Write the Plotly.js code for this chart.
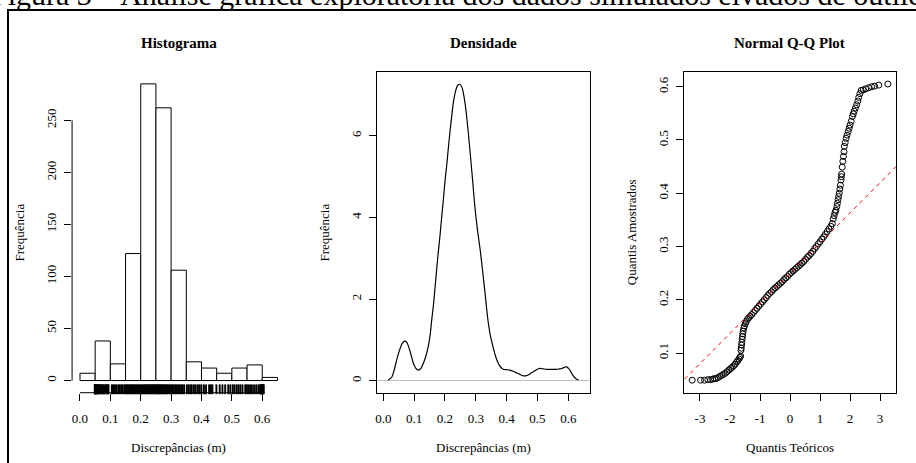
<!DOCTYPE html>
<html>
<head>
<meta charset="utf-8">
<script src="https://cdn.plot.ly/plotly-3.0.1.min.js"></script>
<style>
html,body{margin:0;padding:0;background:#fff;}
#grafico{width:916px;height:463px;}
</style>
</head>
<body>
<div id="grafico"></div>
<script>
// ---------- dados ----------
const limitesClasses = [0.00,0.05,0.10,0.15,0.20,0.25,0.30,0.35,0.40,0.45,0.50,0.55,0.60,0.65];
const frequencias    = [7,38,16,122,285,262,106,18,12,7,12,15,3];

const densidadeX = [0.016,0.027,0.035,0.043,0.054,0.062,0.070,0.076,0.081,0.089,0.097,0.105,0.114,0.122,0.130,0.138,0.146,0.152,0.157,0.163,0.168,0.173,0.178,0.184,0.189,0.195,0.200,0.206,0.211,0.216,0.222,0.227,0.233,0.238,0.243,0.247,0.252,0.257,0.262,0.266,0.270,0.276,0.283,0.290,0.297,0.305,0.314,0.322,0.330,0.335,0.340,0.348,0.357,0.365,0.373,0.381,0.389,0.400,0.411,0.422,0.433,0.444,0.454,0.462,0.470,0.478,0.487,0.497,0.508,0.519,0.530,0.546,0.562,0.571,0.579,0.587,0.595,0.601,0.606,0.612,0.618,0.625,0.633];
const densidadeY = [0.02,0.08,0.25,0.50,0.78,0.92,0.97,0.94,0.86,0.66,0.44,0.31,0.26,0.30,0.43,0.60,0.85,1.12,1.49,1.88,2.30,2.72,3.12,3.56,3.98,4.45,4.88,5.30,5.70,6.08,6.48,6.80,7.05,7.19,7.25,7.26,7.23,7.14,6.95,6.75,6.50,6.05,5.48,4.88,4.26,3.72,3.22,2.70,2.15,1.78,1.45,1.08,0.80,0.58,0.43,0.33,0.28,0.27,0.26,0.23,0.19,0.15,0.12,0.12,0.14,0.18,0.22,0.27,0.30,0.29,0.28,0.28,0.28,0.29,0.30,0.33,0.34,0.30,0.25,0.17,0.10,0.05,0.02];

const quantisTeoricos = [-3.26,-2.98,-2.85,-2.74,-2.65,-2.58,-2.52,-2.46,-2.40,-2.34,-2.28,-2.22,-2.16,-2.10,-2.04,-1.98,-1.93,-1.88,-1.83,-1.78,-1.74,-1.70,-1.67,-1.645,-1.635,-1.625,-1.615,-1.605,-1.595,-1.585,-1.575,-1.56,-1.54,-1.52,-1.49,-1.46,-1.42,-1.38,-1.33,-1.28,
 -1.22,-1.16,-1.10,-1.04,-0.98,-0.92,-0.86,-0.80,-0.74,-0.68,-0.62,-0.56,-0.50,-0.44,-0.38,-0.32,-0.26,-0.20,-0.14,-0.08,-0.02,0.04,0.10,0.16,0.22,0.28,0.34,0.40,0.46,0.52,0.58,0.64,0.70,0.76,0.82,0.88,0.94,1.00,1.06,1.12,1.18,1.24,1.30,1.36,
 1.41,1.44,1.47,1.50,1.53,1.56,1.58,1.60,1.62,1.64,1.66,1.68,1.70,1.71,1.72,1.74,1.76,1.78,1.80,1.81,1.84,1.87,1.90,1.94,1.97,2.00,2.04,2.08,2.11,2.14,2.18,2.22,2.26,2.29,2.33,2.37,2.44,2.52,2.62,2.72,2.82,2.96,3.26];
const quantisAmostrados = [0.049,0.049,0.049,0.050,0.050,0.051,0.052,0.052,0.054,0.056,0.058,0.060,0.062,0.065,0.068,0.071,0.073,0.076,0.079,0.083,0.086,0.089,0.092,0.094,0.105,0.109,0.115,0.120,0.126,0.131,0.136,0.141,0.147,0.151,0.155,0.159,0.163,0.166,0.169,0.172,
 0.176,0.180,0.184,0.188,0.192,0.196,0.200,0.204,0.208,0.212,0.215,0.219,0.222,0.225,0.228,0.231,0.234,0.238,0.241,0.244,0.248,0.251,0.254,0.257,0.260,0.263,0.266,0.269,0.272,0.276,0.280,0.283,0.287,0.291,0.296,0.300,0.305,0.309,0.314,0.318,0.323,0.328,0.333,0.338,
 0.343,0.352,0.358,0.364,0.368,0.375,0.381,0.388,0.394,0.400,0.408,0.415,0.425,0.431,0.436,0.449,0.460,0.469,0.478,0.488,0.495,0.503,0.509,0.516,0.522,0.528,0.535,0.544,0.549,0.554,0.560,0.566,0.573,0.580,0.587,0.593,0.594,0.596,0.598,0.600,0.601,0.603,0.605];

const linhaQQx = [-3.7, 3.7];
const linhaQQy = [0.0406, 0.4594];

const ticksHistX = [0,0.1,0.2,0.3,0.4,0.5,0.6];
const ticksHistY = [0,50,100,150,200,250];
const ticksDensY = [0,2,4,6];
const ticksQQx   = [-3,-2,-1,0,1,2,3];
const rotulosQQx = ['-3','-2','-1','0','1','2','3'];
const ticksQQy   = [0.1,0.2,0.3,0.4,0.5,0.6];

const tituloHist = 'Histograma';
const tituloDens = 'Densidade';
const tituloQQ   = 'Normal Q-Q Plot';
const rotuloX12  = 'Discrepâncias (m)';
const rotuloY12  = 'Frequência';
const rotuloXQQ  = 'Quantis Teóricos';
const rotuloYQQ  = 'Quantis Amostrados';
const legenda    = 'Figura 3 – Análise gráfica exploratória dos dados simulados eivados de outliers';

// ---------- traços ----------
const centros = frequencias.map((_, i) => (limitesClasses[i] + limitesClasses[i+1]) / 2);
const larguras = frequencias.map((_, i) => limitesClasses[i+1] - limitesClasses[i]);

const fonte = '"Liberation Serif", "Times New Roman", Times, serif';

const traces = [
  {type:'bar', x:centros, y:frequencias, width:larguras, xaxis:'x', yaxis:'y',
   marker:{color:'#ffffff', line:{color:'#000', width:1}}, hoverinfo:'skip'},
  {type:'scatter', mode:'markers', x:quantisAmostrados, y:quantisAmostrados.map(() => -8.4),
   xaxis:'x', yaxis:'y', cliponaxis:false,
   marker:{symbol:'line-ns', size:7, line:{color:'#000', width:1.9}}, hoverinfo:'skip'},
  {type:'scatter', mode:'lines', x:densidadeX, y:densidadeY, xaxis:'x2', yaxis:'y2',
   line:{color:'#000', width:1.2, shape:'spline', smoothing:0.6}, hoverinfo:'skip'},
  {type:'scatter', mode:'markers', x:quantisTeoricos, y:quantisAmostrados, xaxis:'x3', yaxis:'y3',
   marker:{symbol:'circle-open', size:6, color:'#000', line:{color:'#000', width:1}}, hoverinfo:'skip'},
  {type:'scatter', mode:'lines', x:linhaQQx, y:linhaQQy, xaxis:'x3', yaxis:'y3',
   line:{color:'#ff0000', width:1, dash:'4px,4px'}, hoverinfo:'skip'}
];

const base = {
  showgrid:false, zeroline:false, ticks:'outside', ticklen:7, tickwidth:1, tickcolor:'#000',
  tickfont:{family:fonte, size:13, color:'#000'}, fixedrange:true, automargin:false
};
const yDom = [0.1518, 0.8438];

const layout = {
  width:916, height:463,
  margin:{l:0, r:0, t:0, b:0},
  paper_bgcolor:'#ffffff', plot_bgcolor:'rgba(0,0,0,0)',
  showlegend:false, bargap:0,
  xaxis:  Object.assign({}, base, {domain:[0.0787,0.3115], range:[-0.026,0.676], tickvals:ticksHistX, tickformat:'.1f', showline:false, anchor:'y', ticklabelstandoff:7}),
  yaxis:  Object.assign({}, base, {domain:yDom, range:[-11.7,296.1], tickvals:ticksHistY, tickangle:-90, showline:false, anchor:'x', ticklabelstandoff:3}),
  xaxis2: Object.assign({}, base, {domain:[0.4119,0.6441], range:[-0.0195,0.6705], tickvals:ticksHistX, tickformat:'.1f', showline:true, mirror:true, linecolor:'#000', linewidth:1, anchor:'y2', ticklabelstandoff:7}),
  yaxis2: Object.assign({}, base, {domain:yDom, range:[-0.294,7.553], tickvals:ticksDensY, tickangle:-90, showline:true, mirror:true, linecolor:'#000', linewidth:1, zeroline:true, zerolinecolor:'#bebebe', zerolinewidth:1.5, anchor:'x2', ticklabelstandoff:3}),
  xaxis3: Object.assign({}, base, {domain:[0.7464,0.9782], range:[-3.543,3.533], tickvals:ticksQQx, ticktext:rotulosQQx, showline:true, mirror:true, linecolor:'#000', linewidth:1, anchor:'y3', ticklabelstandoff:7}),
  yaxis3: Object.assign({}, base, {domain:yDom, range:[0.0255,0.627], tickvals:ticksQQy, tickformat:'.1f', tickangle:-90, showline:true, mirror:true, linecolor:'#000', linewidth:1, anchor:'x3', ticklabelstandoff:3}),
  shapes:[
    // eixos do histograma no estilo R (linha apenas entre o primeiro e o último tick)
    {type:'line', xref:'x', yref:'y domain', x0:ticksHistX[0], x1:ticksHistX[ticksHistX.length-1], y0:0, y1:0, line:{color:'#000', width:1}},
    {type:'line', xref:'x domain', yref:'y', x0:0, x1:0, y0:ticksHistY[0], y1:ticksHistY[ticksHistY.length-1], line:{color:'#000', width:1}},
    // moldura da figura
    {type:'path', xref:'paper', yref:'paper', path:'M 0.00873,-0.1 L 0.00873,0.9784 L 1.1,0.9784', line:{color:'#000', width:2}}
  ],
  annotations:[
    {text:legenda, xref:'paper', yref:'paper', x:-0.012, y:1.012, xanchor:'left', yanchor:'middle', showarrow:false, font:{family:fonte, size:30, color:'#000'}},
    {text:'<b>'+tituloHist+'</b>', xref:'x domain', yref:'paper', x:0.5, y:1-43.3/463, xanchor:'center', yanchor:'middle', showarrow:false, font:{family:fonte, size:15, color:'#000'}},
    {text:'<b>'+tituloDens+'</b>', xref:'x2 domain', yref:'paper', x:0.5, y:1-43.3/463, xanchor:'center', yanchor:'middle', showarrow:false, font:{family:fonte, size:15, color:'#000'}},
    {text:'<b>'+tituloQQ+'</b>', xref:'x3 domain', yref:'paper', x:0.5, y:1-43.3/463, xanchor:'center', yanchor:'middle', showarrow:false, font:{family:fonte, size:15, color:'#000'}},
    {text:rotuloX12, xref:'x domain', yref:'paper', x:0.5, y:1-447/463, xanchor:'center', yanchor:'middle', showarrow:false, font:{family:fonte, size:13, color:'#000'}},
    {text:rotuloX12, xref:'x2 domain', yref:'paper', x:0.5, y:1-447/463, xanchor:'center', yanchor:'middle', showarrow:false, font:{family:fonte, size:13, color:'#000'}},
    {text:rotuloXQQ, xref:'x3 domain', yref:'paper', x:0.5, y:1-447/463, xanchor:'center', yanchor:'middle', showarrow:false, font:{family:fonte, size:13, color:'#000'}},
    {text:rotuloY12, xref:'paper', yref:'y domain', x:20/916, y:0.5, xanchor:'center', yanchor:'middle', textangle:-90, showarrow:false, font:{family:fonte, size:13, color:'#000'}},
    {text:rotuloY12, xref:'paper', yref:'y2 domain', x:325/916, y:0.5, xanchor:'center', yanchor:'middle', textangle:-90, showarrow:false, font:{family:fonte, size:13, color:'#000'}},
    {text:rotuloYQQ, xref:'paper', yref:'y3 domain', x:631.7/916, y:0.5, xanchor:'center', yanchor:'middle', textangle:-90, showarrow:false, font:{family:fonte, size:13, color:'#000'}}
  ]
};

Plotly.newPlot('grafico', traces, layout, {displayModeBar:false, staticPlot:true});
</script>
</body>
</html>
